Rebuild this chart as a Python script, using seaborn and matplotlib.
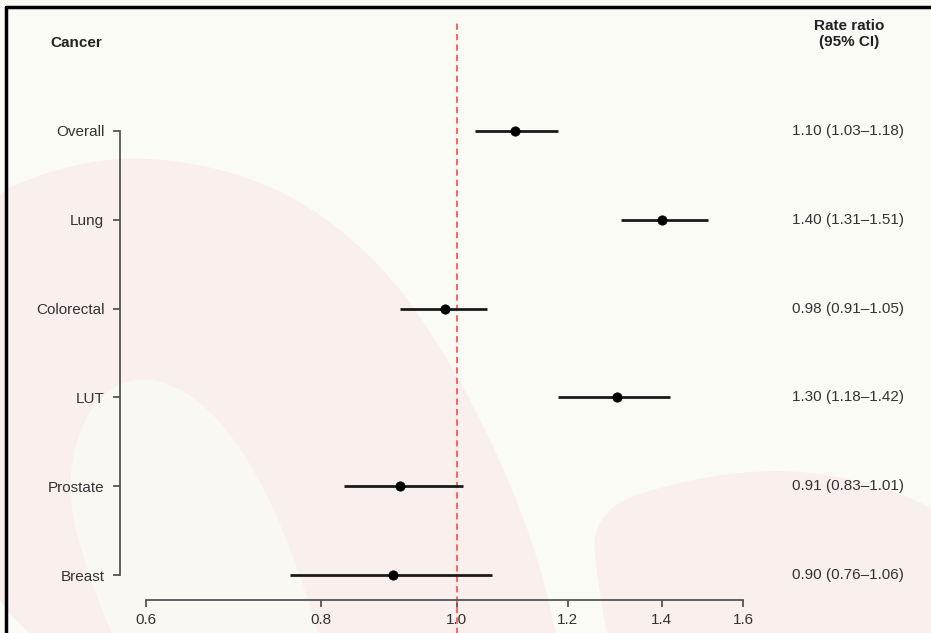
import numpy as np
import pandas as pd
import matplotlib
matplotlib.use("Agg")
import matplotlib.pyplot as plt
import matplotlib.transforms as mtransforms
from matplotlib.patches import Polygon
import seaborn as sns

# forest plot data
cancers = ["Overall", "Lung", "Colorectal", "LUT", "Prostate", "Breast"]
rate_ratio = [1.10, 1.40, 0.98, 1.30, 0.91, 0.90]
ci_low = [1.03, 1.31, 0.91, 1.18, 0.83, 0.76]
ci_high = [1.18, 1.51, 1.05, 1.42, 1.01, 1.06]
x_ticks = [0.6, 0.8, 1.0, 1.2, 1.4, 1.6]

df = pd.DataFrame({"cancer": cancers, "rr": rate_ratio, "lo": ci_low, "hi": ci_high})
df["pos"] = np.arange(len(df))[::-1]

sns.set_style("white")
plt.rcParams["font.family"] = ["Liberation Sans", "DejaVu Sans"]

W, H = 931, 633
BG = "#fbfbf6"
PINK = "#f9efec"
SOFT = "#f9f8f3"
FS = 11


def smooth(points, n=4):
    """Chaikin smoothing of a closed outline"""
    pts = np.asarray(points, dtype=float)
    for _ in range(n):
        nxt = np.roll(pts, -1, axis=0)
        q = 0.75 * pts + 0.25 * nxt
        r = 0.25 * pts + 0.75 * nxt
        pts = np.empty((2 * len(q), 2))
        pts[0::2] = q
        pts[1::2] = r
    return pts


def to_fig(points):
    return [(x / W, 1 - y / H) for x, y in points]


fig = plt.figure(figsize=(W / 100, H / 100), dpi=100, facecolor=BG)

# faint background shapes
shapes = [
    ([(-40, 210), (60, 165), (160, 155), (280, 185), (380, 260), (450, 360),
      (510, 480), (545, 580), (570, 700), (-40, 700)], PINK),
    ([(140, 700), (85, 570), (65, 480), (90, 400), (145, 372), (210, 405),
      (265, 485), (310, 600), (335, 700)], SOFT),
    ([(590, 510), (690, 478), (790, 468), (880, 485), (960, 520),
      (960, 700), (620, 700), (600, 600)], PINK),
]
for outline, color in shapes:
    fig.patches.append(Polygon(smooth(to_fig(outline)), closed=True, transform=fig.transFigure,
                               facecolor=color, edgecolor="none", zorder=-5))

# outer frame (left and top edges visible)
fig.add_artist(plt.Line2D([6 / W, 6 / W], [0, 1 - 7 / H], transform=fig.transFigure, color="black", lw=2.5))
fig.add_artist(plt.Line2D([6 / W, 1], [1 - 7 / H, 1 - 7 / H], transform=fig.transFigure, color="black", lw=2.5))

ax = fig.add_axes([146 / W, 1 - 600 / H, (743 - 146) / W, 490 / H])
ax.set_zorder(2)
ax.set_facecolor("none")
ax.set_xscale("log")
ax.set_xlim(0.6, 1.6)
ax.set_ylim(-0.2815, 5.236)

# reference line at 1
ax.axvline(1.0, ymin=-0.07, ymax=1.18, color="#f26b6b", ls=(0, (3, 2)), lw=1.5, clip_on=False, zorder=1)

# confidence intervals and point estimates
ax.hlines(df["pos"], df["lo"], df["hi"], color="#1a1a1a", lw=2, zorder=2)
sns.scatterplot(data=df, x="rr", y="pos", ax=ax, color="black", s=45, edgecolor="black", zorder=3, legend=False)

ax.set_xlabel("")
ax.set_ylabel("")
ax.set_xticks(x_ticks)
ax.set_xticklabels([f"{t:.1f}" for t in x_ticks])
ax.xaxis.set_minor_locator(matplotlib.ticker.NullLocator())
ax.set_yticks(df["pos"])
ax.set_yticklabels(df["cancer"])

for side in ["top", "right"]:
    ax.spines[side].set_visible(False)
ax.spines["left"].set_position(("outward", 19))
ax.spines["left"].set_bounds(0, 5)
ax.spines["bottom"].set_bounds(0.6, 1.6)
for side in ["left", "bottom"]:
    ax.spines[side].set_color("#555555")
    ax.spines[side].set_linewidth(1.3)
ax.tick_params(axis="both", length=5, width=1.3, color="#555555", labelsize=FS, labelcolor="#333333",
               bottom=True, left=True)
ax.tick_params(axis="x", pad=4)
ax.tick_params(axis="y", pad=6)

# column headers
fig.text(50 / W, 1 - 43 / H, "Cancer", fontsize=FS, fontweight="bold", color="#222222", va="center", ha="left")
fig.text(849 / W, 1 - 34 / H, "Rate ratio\n(95% CI)", fontsize=FS, fontweight="bold", color="#222222",
         va="center", ha="center", linespacing=1.1)

# rate ratio text column
trans = mtransforms.blended_transform_factory(fig.transFigure, ax.transData)
for _, row in df.iterrows():
    label = f"{row['rr']:.2f} ({row['lo']:.2f}\u2013{row['hi']:.2f})"
    ax.text(792 / W, row["pos"], label, transform=trans, fontsize=FS, color="#333333", va="center", ha="left")

fig.savefig("out.png", dpi=100, facecolor=BG)
